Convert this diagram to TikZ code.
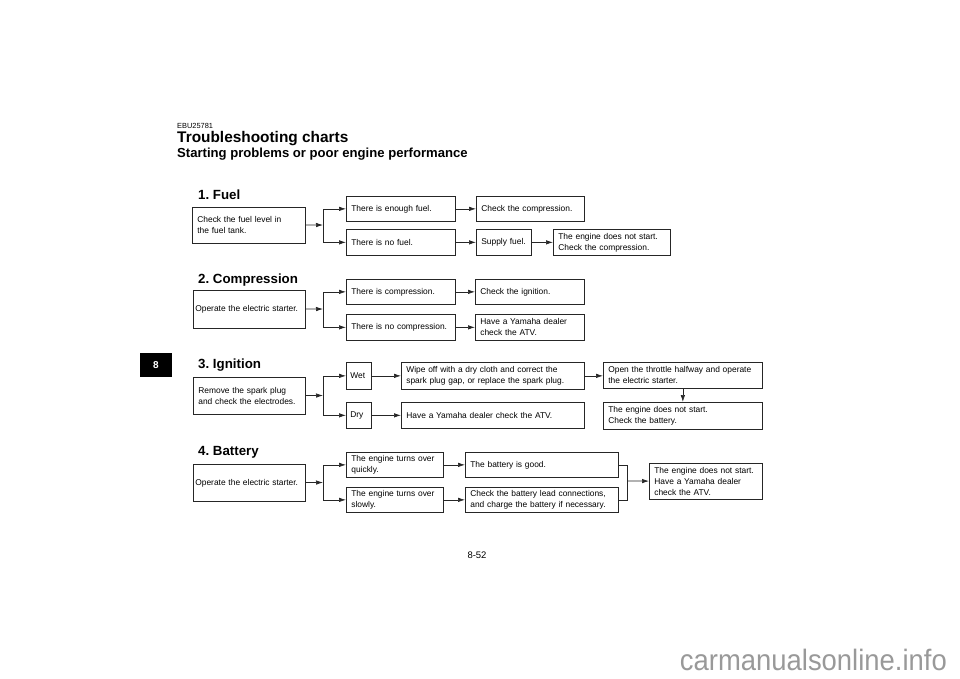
\documentclass[tikz,border=0pt]{standalone}
\usepackage{fontspec}
\setmainfont{Liberation Sans}
\usetikzlibrary{arrows.meta}
\frenchspacing

\tikzset{
  box/.style={draw=black!85, line width=0.7pt, anchor=north west, align=left,
    inner xsep=5pt, inner ysep=1pt, font=\fontsize{8.4}{11}\selectfont},
  arr/.style={draw=black!85, line width=0.7pt, -{Latex[length=7pt,width=4.5pt]}},
  link/.style={draw=black!85, line width=0.7pt},
  head/.style={anchor=base west, inner sep=0pt, font=\bfseries\fontsize{13.3}{16}\selectfont},
}

\begin{document}
\begin{tikzpicture}[x=1pt,y=-1pt]
	\useasboundingbox (0,0) rectangle (960,679);

	% page titles
	\node[anchor=base west, inner sep=0pt, font=\fontsize{7.4}{9}\selectfont] (code) at (177,129) {EBU25781};
	\node[anchor=base west, inner sep=0pt, font=\bfseries\fontsize{15.4}{18}\selectfont] (title) at (177,143) {Troubleshooting charts};
	\node[anchor=base west, inner sep=0pt, font=\bfseries\fontsize{13.1}{16}\selectfont] (subtitle) at (177,158) {Starting problems or poor engine performance};

	% chapter tab
	\node[fill=black, text=white, minimum width=32pt, minimum height=24pt, inner sep=0pt, font=\bfseries\fontsize{10}{12}\selectfont] (tab) at (156,365) {8};

	% 1. fuel
	\node[head] (fuel) at (198,200) {1. Fuel};
	\node[box, text width=103pt, minimum height=36pt] (fA) at (192,207) {Check the fuel level in\\the fuel tank.};
	\node[box, text width=99pt, minimum height=25pt] (fB1) at (346,196) {There is enough fuel.};
	\node[box, text width=99pt, minimum height=26pt] (fB2) at (346,229) {There is no fuel.};
	\node[box, text width=98pt, minimum height=25pt] (fC1) at (476,196) {Check the compression.};
	\node[box, text width=45pt, minimum height=26pt] (fC2) at (476,229) {Supply fuel.};
	\node[box, text width=107pt, minimum height=26pt] (fD2) at (553,229) {The engine does not start.\\Check the compression.};
	\coordinate (fJ) at (323,225);
	\draw[arr] (fA) -- (fJ);
	\draw[arr] (fJ) |- (fB1.west);
	\draw[arr] (fJ) |- (fB2.west);
	\draw[arr] (fB1) -- (fC1);
	\draw[arr] (fB2) -- (fC2);
	\draw[arr] (fC2) -- (fD2);

	% 2. compression
	\node[head] (comp) at (198,283) {2. Compression};
	\node[box, inner xsep=2pt, text width=108pt, minimum height=38pt] (cA) at (193,290) {Operate the electric starter.};
	\node[box, text width=99pt, minimum height=25pt] (cB1) at (346,279) {There is compression.};
	\node[box, text width=99pt, minimum height=26pt] (cB2) at (346,314) {There is no compression.};
	\node[box, text width=99pt, minimum height=25pt] (cC1) at (475,279) {Check the ignition.};
	\node[box, text width=99pt, minimum height=26pt] (cC2) at (475,314) {Have a Yamaha dealer\\check the ATV.};
	\coordinate (cJ) at (323,309);
	\draw[arr] (cA) -- (cJ);
	\draw[arr] (cJ) |- (cB1.west);
	\draw[arr] (cJ) |- (cB2.west);
	\draw[arr] (cB1) -- (cC1);
	\draw[arr] (cB2) -- (cC2);

	% 3. ignition
	\node[head] (ign) at (198,368) {3. Ignition};
	\node[box, text width=102pt, minimum height=37pt] (iA) at (193,377) {Remove the spark plug\\and check the electrodes.};
	\node[box, inner xsep=4pt, text width=17pt, minimum height=27pt] (iB1) at (346,362) {Wet};
	\node[box, inner xsep=4pt, text width=17pt, minimum height=26pt] (iB2) at (346,402) {Dry};
	\node[box, text width=173pt, minimum height=27pt] (iC1) at (401,362) {Wipe off with a dry cloth and correct the\\spark plug gap, or replace the spark plug.};
	\node[box, text width=173pt, minimum height=26pt] (iC2) at (401,402) {Have a Yamaha dealer check the ATV.};
	\node[box, text width=149pt, minimum height=26pt] (iD1) at (603,362) {Open the throttle halfway and operate\\the electric starter.};
	\node[box, text width=149pt, minimum height=27pt] (iD2) at (603,402) {The engine does not start.\\Check the battery.};
	\coordinate (iJ) at (323,395.5);
	\draw[arr] (iA) -- (iJ);
	\draw[arr] (iJ) |- (iB1.west);
	\draw[arr] (iJ) |- (iB2.west);
	\draw[arr] (iB1) -- (iC1);
	\draw[arr] (iB2) -- (iC2);
	\draw[arr] (iC1.east) -- (iC1.east -| iD1.west);
	\draw[arr] (iD1) -- (iD2);

	% 4. battery
	\node[head] (batt) at (198,455) {4. Battery};
	\node[box, inner xsep=2pt, text width=108pt, minimum height=37pt] (bA) at (193,464) {Operate the electric starter.};
	\node[box, text width=87pt, minimum height=25pt] (bB1) at (346,452) {The engine turns over\\quickly.};
	\node[box, text width=87pt, minimum height=25pt] (bB2) at (346,487) {The engine turns over\\slowly.};
	\node[box, text width=143pt, minimum height=25pt] (bC1) at (465,452) {The battery is good.};
	\node[box, text width=143pt, minimum height=25pt] (bC2) at (465,487) {Check the battery lead connections,\\and charge the battery if necessary.};
	\node[box, text width=103pt, minimum height=36pt] (bD) at (649,463) {The engine does not start.\\Have a Yamaha dealer\\check the ATV.};
	\coordinate (bJ) at (323,482.5);
	\coordinate (bM) at (627,481);
	\draw[arr] (bA) -- (bJ);
	\draw[arr] (bJ) |- (bB1.west);
	\draw[arr] (bJ) |- (bB2.west);
	\draw[arr] (bB1) -- (bC1);
	\draw[arr] (bB2) -- (bC2);
	\draw[link] (bC1.east) -| (bM) |- (bC2.east);
	\draw[arr] (bM) -- (bD);

	% page number and site mark
	\node[anchor=base, inner sep=0pt, font=\fontsize{9.5}{11}\selectfont] (page) at (477,558) {8-52};
	\node[anchor=base east, inner sep=0pt, text=black!40, xscale=0.93, font=\fontsize{29.5}{31}\selectfont] (site) at (947,670) {carmanualsonline.info};
\end{tikzpicture}
\end{document}
